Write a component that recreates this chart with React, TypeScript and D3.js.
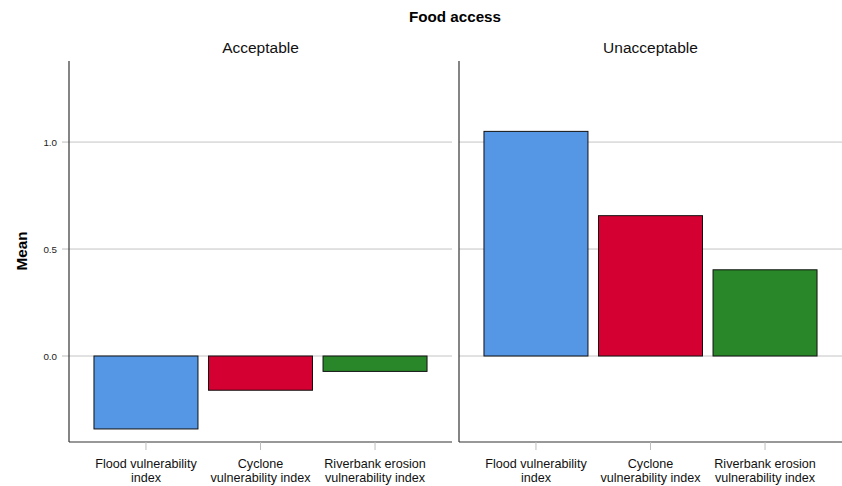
import React from "react";
import * as d3 from "d3";

const categories = ["Flood vulnerability index", "Cyclone vulnerability index", "Riverbank erosion vulnerability index"];
const categoryLines = [["Flood vulnerability", "index"], ["Cyclone", "vulnerability index"], ["Riverbank erosion", "vulnerability index"]];
const panels = ["Acceptable", "Unacceptable"];
const acceptableValues = [-0.341, -0.160, -0.072];
const unacceptableValues = [1.050, 0.656, 0.403];
const yTicks = [0.0, 0.5, 1.0];
const colors = ["#5596e5", "#d50032", "#298729"];

const W = 842, H = 486;
const top = 61, bottom = 442;
const panelX = [[69, 452], [459, 842]];

export default function App() {
  const y = d3.scaleLinear().domain([-0.402, 1.379]).range([bottom, top]);
  const seriesByPanel = [acceptableValues, unacceptableValues];
  const font = "'Liberation Sans', Arial, sans-serif";
  return (
    <svg width={W} height={H} style={{ position: "absolute", left: 0, top: 0, background: "#fff" }} fontFamily={font}>
      <text x={455} y={22} textAnchor="middle" fontSize={15.2} fontWeight="bold" fill="#000">Food access</text>
      <text transform={`translate(26.5,${251}) rotate(-90)`} textAnchor="middle" fontSize={15.2} fontWeight="bold" fill="#000">Mean</text>
      {yTicks.map((t) => (
        <g key={t}>
          <line x1={62} x2={69} y1={y(t)} y2={y(t)} stroke="#bdbdbd" strokeWidth={1} />
          <text x={57} y={y(t)} dy="0.4em" textAnchor="end" fontSize={9.8} fill="#222">{d3.format(".1f")(t)}</text>
        </g>
      ))}
      {panels.map((p, pi) => {
        const [x0, x1] = panelX[pi];
        const x = d3.scaleBand<string>().domain(categories).range([x0, x1]).paddingInner(0.092).paddingOuter(0.218);
        const vals = seriesByPanel[pi];
        return (
          <g key={p}>
            <text x={(x0 + x1) / 2} y={53} textAnchor="middle" fontSize={15.5} fill="#111">{p}</text>
            {yTicks.map((t) => (
              <line key={t} x1={x0} x2={x1} y1={y(t)} y2={y(t)} stroke="#c4c4c4" strokeWidth={1} />
            ))}
            {categories.map((c, i) => {
              const v = vals[i];
              const yy = Math.min(y(v), y(0));
              const h = Math.abs(y(v) - y(0));
              return (
                <rect key={c} x={x(c)!} y={yy} width={x.bandwidth()} height={h} fill={colors[i]} stroke="#111" strokeWidth={1} />
              );
            })}
            <line x1={x0} x2={x0} y1={top} y2={bottom} stroke="#333" strokeWidth={1.2} />
            <line x1={x0} x2={x1} y1={bottom} y2={bottom} stroke="#333" strokeWidth={1.2} />
            {categories.map((c, i) => {
              const cx = x(c)! + x.bandwidth() / 2;
              return (
                <g key={c}>
                  <line x1={cx} x2={cx} y1={bottom} y2={bottom + 8} stroke="#bdbdbd" strokeWidth={1} />
                  {categoryLines[i].map((ln, li) => (
                    <text key={li} x={cx} y={467.5 + li * 14.5} textAnchor="middle" fontSize={12.6} fill="#111">{ln}</text>
                  ))}
                </g>
              );
            })}
          </g>
        );
      })}
    </svg>
  );
}
